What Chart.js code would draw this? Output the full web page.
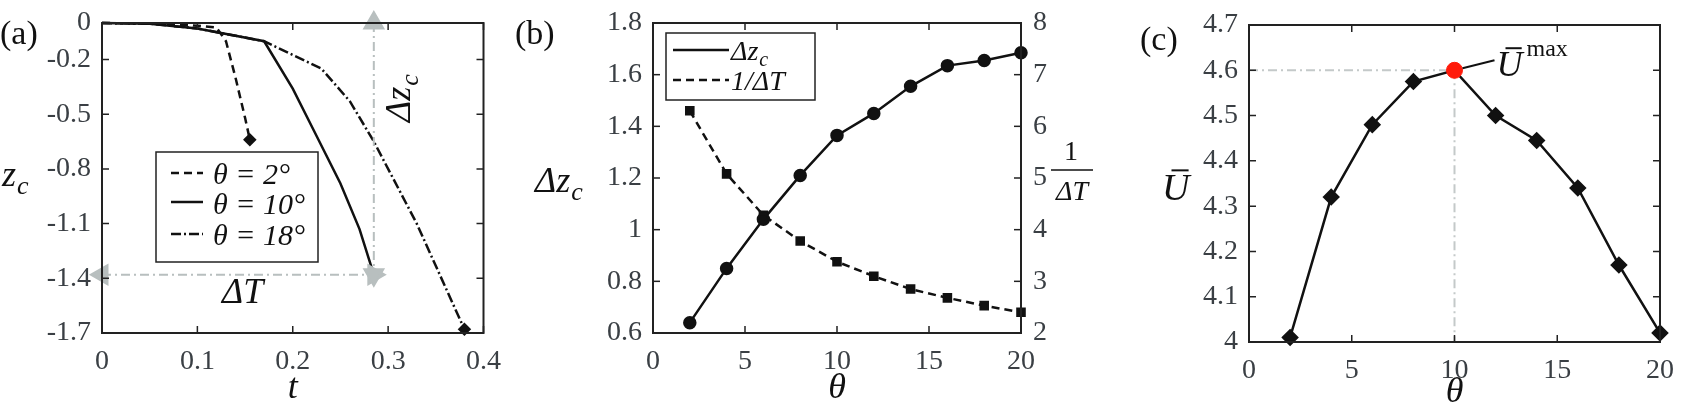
<!DOCTYPE html>
<html>
<head>
<meta charset="utf-8">
<script src="https://cdn.jsdelivr.net/npm/chart.js@4/dist/chart.umd.min.js"></script>
<style>
  body { margin: 0; background: #fff; width: 1695px; height: 406px; position: relative; overflow: hidden; }
  canvas { position: absolute; top: 0; }
</style>
</head>
<body>
<canvas id="ca" style="left:0px" width="505" height="406"></canvas>
<canvas id="cb" style="left:505px" width="595" height="406"></canvas>
<canvas id="cc" style="left:1100px" width="595" height="406"></canvas>
<script>
// panel (a): z_c(t)
const tTheta2 = [0, 0.05, 0.1, 0.12, 0.13, 0.14, 0.15, 0.155];
const zTheta2 = [0, -0.003, -0.015, -0.025, -0.1, -0.3, -0.52, -0.64];
const tTheta10 = [0, 0.05, 0.1, 0.17, 0.2, 0.225, 0.25, 0.27, 0.285];
const zTheta10 = [0, -0.004, -0.03, -0.1, -0.36, -0.62, -0.88, -1.13, -1.38];
const tTheta18 = [0, 0.05, 0.1, 0.17, 0.23, 0.26, 0.285, 0.33, 0.38];
const zTheta18 = [0, -0.004, -0.03, -0.1, -0.25, -0.43, -0.65, -1.1, -1.68];
const zTicksA = [0, -0.2, -0.5, -0.8, -1.1, -1.4, -1.7];
const tTicksA = [0, 0.1, 0.2, 0.3, 0.4];

// panel (b) and (c): against theta
const theta = [2, 4, 6, 8, 10, 12, 14, 16, 18, 20];
const deltaZc = [0.64, 0.85, 1.04, 1.21, 1.365, 1.45, 1.555, 1.635, 1.655, 1.685];
const invDeltaT = [6.3, 5.08, 4.28, 3.78, 3.38, 3.1, 2.85, 2.68, 2.53, 2.4];
const uBar = [4.01, 4.32, 4.48, 4.575, 4.60, 4.50, 4.445, 4.34, 4.17, 4.02];
const uMaxTheta = 10, uMax = 4.60;

const SERIF = "'Liberation Serif', 'Times New Roman', 'DejaVu Serif', serif";
const ITAL = 'italic 36px ' + SERIF;
const GREY = '#b8bfbf';
const TXT = '#3a3f44';

function pts(xs, ys) { return xs.map((x, i) => ({ x: x, y: ys[i] })); }

function fixSize(w, h) {
  return function (s) { if (w != null) s.width = w; if (h != null) s.height = h; };
}

function axisX(min, max, step, h, extra) {
  return Object.assign({
    type: 'linear', min: min, max: max,
    ticks: { stepSize: step, color: TXT, font: { size: 28, family: SERIF }, padding: 4, maxRotation: 0 },
    grid: { display: false }, border: { display: false },
    afterFit: fixSize(null, h)
  }, extra || {});
}
function axisY(min, max, step, w, extra) {
  return Object.assign({
    type: 'linear', min: min, max: max,
    ticks: { stepSize: step, color: TXT, font: { size: 28, family: SERIF }, padding: 3 },
    grid: { display: false }, border: { display: false },
    afterFit: fixSize(w, null)
  }, extra || {});
}

// box + inward ticks, MATLAB style
function frame(chart) {
  const c = chart.ctx, a = chart.chartArea;
  c.save();
  c.strokeStyle = '#222'; c.lineWidth = 2;
  c.strokeRect(a.left, a.top, a.right - a.left, a.bottom - a.top);
  c.lineWidth = 1.5;
  Object.values(chart.scales).forEach(s => {
    s.ticks.forEach(t => {
      const p = s.getPixelForValue(t.value);
      c.beginPath();
      if (s.isHorizontal()) {
        c.moveTo(p, a.bottom); c.lineTo(p, a.bottom - 7);
        c.moveTo(p, a.top); c.lineTo(p, a.top + 7);
      } else if (s.position === 'right') {
        c.moveTo(a.right, p); c.lineTo(a.right - 7, p);
      } else {
        c.moveTo(a.left, p); c.lineTo(a.left + 7, p);
        if (!chart.scales.y2) { c.moveTo(a.right, p); c.lineTo(a.right - 7, p); }
      }
      c.stroke();
    });
  });
  c.restore();
}

function text(c, str, x, y, font, color, align) {
  c.font = font; c.fillStyle = color || '#111'; c.textAlign = align || 'left'; c.textBaseline = 'alphabetic';
  c.fillText(str, x, y);
}
// text followed by a subscript placed right after it
function sub(c, str, s, x, y, size) {
  text(c, str, x, y, 'italic ' + size + 'px ' + SERIF);
  const w = c.measureText(str).width;
  text(c, s, x + w + 1, y + size * 0.22, 'italic ' + Math.round(size * 0.72) + 'px ' + SERIF);
}
function lineSample(c, x1, x2, y, dash) {
  c.save(); c.strokeStyle = '#111'; c.lineWidth = 2.5; c.setLineDash(dash);
  c.beginPath(); c.moveTo(x1, y); c.lineTo(x2, y); c.stroke(); c.restore();
}
function ubar(c, x, y, size) {
  text(c, 'U', x, y, 'italic ' + size + 'px ' + SERIF);
  c.save(); c.strokeStyle = '#111'; c.lineWidth = 2;
  c.beginPath(); c.moveTo(x + size * 0.25, y - size * 0.78); c.lineTo(x + size * 0.7, y - size * 0.78); c.stroke(); c.restore();
}

// ---------------- (a) ----------------
const arrowV = [{ x: 0.285, y: 0 }, { x: 0.285, y: -1.38 }];
const arrowH = [{ x: 0, y: -1.38 }, { x: 0.285, y: -1.38 }];

new Chart(document.getElementById('ca'), {
  type: 'scatter',
  data: {
    datasets: [
      { data: arrowV, showLine: true, borderColor: GREY, borderWidth: 2, borderDash: [9, 4, 2, 4],
        pointStyle: 'triangle', pointRadius: 11, pointBackgroundColor: GREY, pointBorderColor: GREY, pointRotation: [0, 180] },
      { data: arrowH, showLine: true, borderColor: GREY, borderWidth: 2, borderDash: [9, 4, 2, 4],
        pointStyle: 'triangle', pointRadius: 11, pointBackgroundColor: GREY, pointBorderColor: GREY, pointRotation: [270, 90] },
      { data: pts(tTheta2, zTheta2), showLine: true, borderColor: '#111', borderWidth: 2.5, borderDash: [8, 5],
        pointStyle: 'rectRot', pointRadius: ctx => ctx.dataIndex === tTheta2.length - 1 ? 5 : 0, pointBackgroundColor: '#111' },
      { data: pts(tTheta10, zTheta10), showLine: true, borderColor: '#111', borderWidth: 2.5,
        pointStyle: 'rectRot', pointRadius: ctx => ctx.dataIndex === tTheta10.length - 1 ? 5 : 0, pointBackgroundColor: '#111' },
      { data: pts(tTheta18, zTheta18), showLine: true, borderColor: '#111', borderWidth: 2.5, borderDash: [10, 3, 2, 3],
        pointStyle: 'rectRot', pointRadius: ctx => ctx.dataIndex === tTheta18.length - 1 ? 5 : 0, pointBackgroundColor: '#111' }
    ]
  },
  options: {
    responsive: false, animation: false, clip: false,
    layout: { padding: { top: 23, right: 3, left: 0, bottom: 0 } },
    plugins: { legend: { display: false }, tooltip: { enabled: false } },
    scales: {
      x: axisX(0, 0.4, 0.1, 73, { afterBuildTicks: s => { s.ticks = tTicksA.map(v => ({ value: v })); } }),
      y: axisY(-1.7, 0, 0.1, 102, { afterBuildTicks: s => { s.ticks = zTicksA.map(v => ({ value: v })); } })
    }
  },
  plugins: [{
    id: 'decoA',
    afterDraw(chart) {
      frame(chart);
      const c = chart.ctx, a = chart.chartArea, sx = chart.scales.x;
      text(c, '(a)', 0, 44, '34px ' + SERIF);
      text(c, 't', (a.left + a.right) / 2, 398, ITAL, '#111', 'center');
      sub(c, 'z', 'c', 2, 186, 36);
      text(c, 'ΔT', 222, 303, ITAL);
      c.save(); c.translate(sx.getPixelForValue(0.285) + 36, 122); c.rotate(-Math.PI / 2);
      sub(c, 'Δz', 'c', 0, 0, 36); c.restore();
      // legend
      c.save(); c.fillStyle = '#fff'; c.fillRect(156, 152, 162, 110);
      c.strokeStyle = '#222'; c.lineWidth = 1.5; c.strokeRect(156, 152, 162, 110); c.restore();
      lineSample(c, 171, 203, 173, [8, 5]);
      lineSample(c, 171, 203, 202, []);
      lineSample(c, 171, 203, 234, [10, 3, 2, 3]);
      text(c, 'θ = 2°', 213, 184, 'italic 30px ' + SERIF);
      text(c, 'θ = 10°', 213, 214, 'italic 30px ' + SERIF);
      text(c, 'θ = 18°', 213, 245, 'italic 30px ' + SERIF);
    }
  }]
});

// ---------------- (b) ----------------
new Chart(document.getElementById('cb'), {
  type: 'line',
  data: {
    datasets: [
      { data: pts(theta, deltaZc), yAxisID: 'y', borderColor: '#111', borderWidth: 2.5,
        pointStyle: 'circle', pointRadius: 5.5, pointBackgroundColor: '#111', pointBorderColor: '#111' },
      { data: pts(theta, invDeltaT), yAxisID: 'y2', borderColor: '#111', borderWidth: 2.5, borderDash: [8, 5],
        pointStyle: 'rect', pointRadius: 5, pointBackgroundColor: '#111', pointBorderColor: '#111' }
    ]
  },
  options: {
    responsive: false, animation: false, clip: false,
    layout: { padding: { top: 23, right: 0, left: 0, bottom: 0 } },
    plugins: { legend: { display: false }, tooltip: { enabled: false } },
    scales: {
      x: axisX(0, 20, 5, 73),
      y: axisY(0.6, 1.8, 0.2, 148, { ticks: { stepSize: 0.2, color: TXT, font: { size: 28, family: SERIF }, padding: 3,
        callback: v => +v.toFixed(1) + '' } }),
      y2: axisY(2, 8, 1, 79, { position: 'right', ticks: { stepSize: 1, color: TXT, font: { size: 28, family: SERIF }, padding: 4 } })
    }
  },
  plugins: [{
    id: 'decoB',
    afterDraw(chart) {
      frame(chart);
      const c = chart.ctx, a = chart.chartArea;
      text(c, '(b)', 10, 44, '34px ' + SERIF);
      text(c, 'θ', (a.left + a.right) / 2, 398, ITAL, '#111', 'center');
      sub(c, 'Δz', 'c', 30, 192, 36);
      // 1/ΔT label
      text(c, '1', a.right + 50, 160, '28px ' + SERIF, '#111', 'center');
      c.save(); c.strokeStyle = '#111'; c.lineWidth = 1.5; c.beginPath();
      c.moveTo(a.right + 30, 170); c.lineTo(a.right + 72, 170); c.stroke(); c.restore();
      text(c, 'ΔT', a.right + 51, 200, 'italic 28px ' + SERIF, '#111', 'center');
      // legend
      c.save(); c.fillStyle = '#fff'; c.fillRect(a.left + 13, 33, 149, 67);
      c.strokeStyle = '#222'; c.lineWidth = 1.5; c.strokeRect(a.left + 13, 33, 149, 67); c.restore();
      lineSample(c, a.left + 20, a.left + 76, 50, []);
      lineSample(c, a.left + 20, a.left + 76, 80, [8, 5]);
      sub(c, 'Δz', 'c', a.left + 78, 60, 28);
      text(c, '1/ΔT', a.left + 78, 90, 'italic 28px ' + SERIF);
    }
  }]
});

// ---------------- (c) ----------------
const guideH = [{ x: 0, y: uMax }, { x: uMaxTheta, y: uMax }];
const guideV = [{ x: uMaxTheta, y: uMax }, { x: uMaxTheta, y: 4 }];

new Chart(document.getElementById('cc'), {
  type: 'scatter',
  data: {
    datasets: [
      { data: guideH, showLine: true, borderColor: '#c4c9c9', borderWidth: 2, borderDash: [9, 4, 2, 4], pointRadius: 0, order: 3 },
      { data: guideV, showLine: true, borderColor: '#c4c9c9', borderWidth: 2, borderDash: [9, 4, 2, 4], pointRadius: 0, order: 3 },
      { data: pts(theta, uBar), showLine: true, borderColor: '#111', borderWidth: 2.5, order: 2,
        pointStyle: 'rectRot', pointRadius: ctx => theta[ctx.dataIndex] === uMaxTheta ? 0 : 7,
        pointBackgroundColor: '#111', pointBorderColor: '#111' },
      { data: [{ x: uMaxTheta, y: uMax }], pointRadius: 8, pointBackgroundColor: '#ff1a0a', pointBorderColor: '#ff1a0a', order: 1 }
    ]
  },
  options: {
    responsive: false, animation: false, clip: false,
    layout: { padding: { top: 25, right: 35, left: 0, bottom: 0 } },
    plugins: { legend: { display: false }, tooltip: { enabled: false } },
    scales: {
      x: axisX(0, 20, 5, 64),
      y: axisY(4, 4.7, 0.1, 149, { ticks: { stepSize: 0.1, color: TXT, font: { size: 28, family: SERIF }, padding: 3,
        callback: v => +v.toFixed(1) + '' } })
    }
  },
  plugins: [{
    id: 'decoC',
    afterDraw(chart) {
      frame(chart);
      const c = chart.ctx, a = chart.chartArea, sx = chart.scales.x, sy = chart.scales.y;
      text(c, '(c)', 40, 50, '34px ' + SERIF);
      text(c, 'θ', (a.left + a.right) / 2, 402, ITAL, '#111', 'center');
      ubar(c, 62, 200, 38);
      const px = sx.getPixelForValue(uMaxTheta), py = sy.getPixelForValue(uMax);
      c.save(); c.strokeStyle = '#111'; c.lineWidth = 2; c.beginPath();
      c.moveTo(px + 8, py - 2); c.lineTo(px + 40, py - 10); c.stroke(); c.restore();
      ubar(c, px + 42, py + 6, 36);
      text(c, 'max', px + 72, py - 14, '24px ' + SERIF);
    }
  }]
});
</script>
</body>
</html>
